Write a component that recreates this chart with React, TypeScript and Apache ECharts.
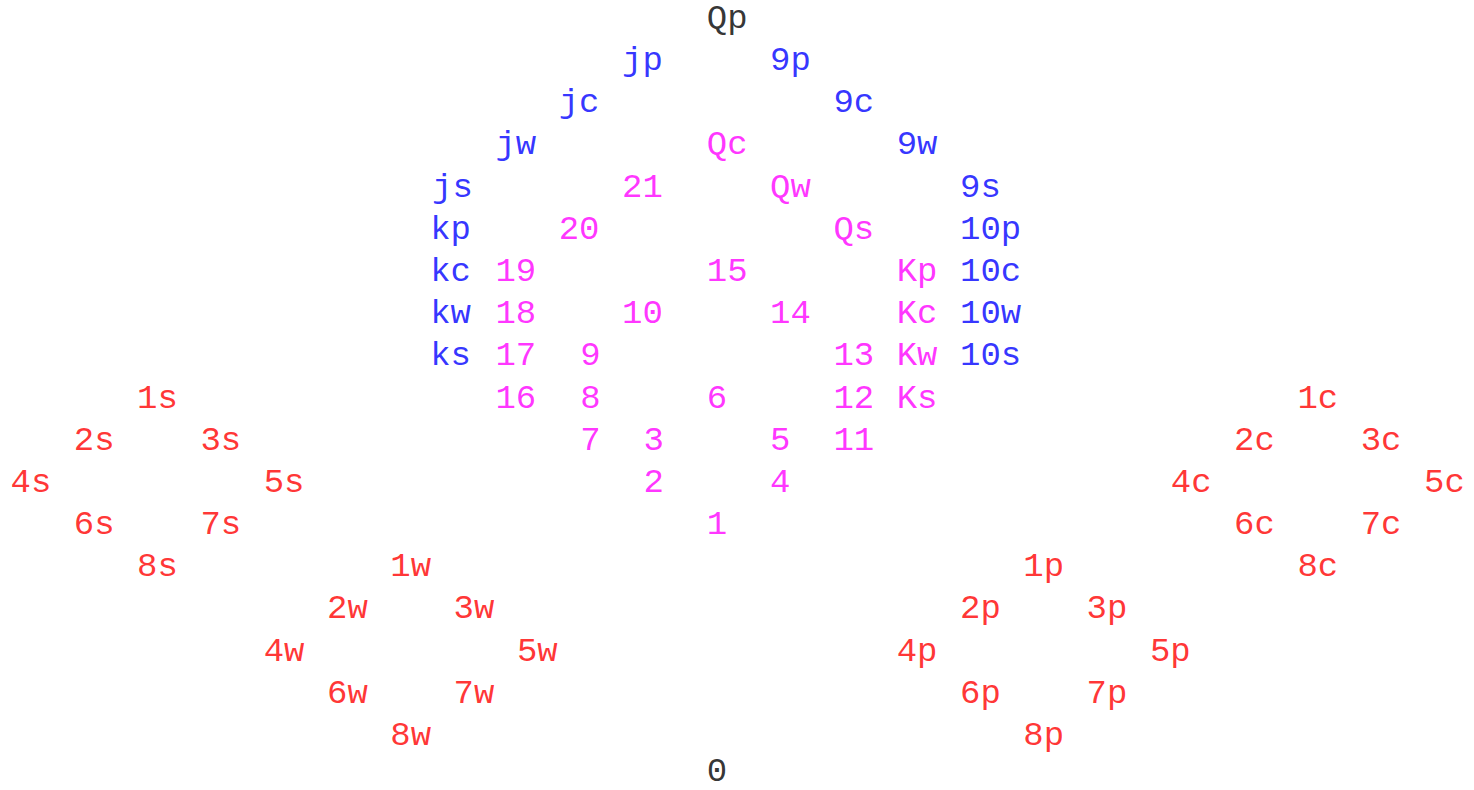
import React, { useEffect, useRef } from "react";
import * as echarts from "echarts";

// Black labels (top and bottom)
const blackLabels = ["Qp", "0"];
const blackX = [11, 11];
const blackY = [0, 17.85];

// Blue labels
const blueLabels = ["jp", "9p", "jc", "9c", "jw", "9w", "js", "9s", "kp", "10p", "kc", "10c", "kw", "10w", "ks", "10s"];
const blueX = [9.66, 12, 8.66, 13, 7.66, 14, 6.66, 15, 6.63, 15, 6.63, 15, 6.63, 15, 6.63, 15];
const blueY = [1, 1, 2, 2, 3, 3, 4, 4, 5, 5, 6, 6, 7, 7, 8, 8];

// Magenta labels
const magentaLabels = [
  "Qc", "21", "Qw", "20", "Qs", "19", "15", "Kp", "18", "10", "14", "Kc",
  "17", "9", "13", "Kw", "16", "8", "6", "12", "Ks", "7", "3", "5", "11", "2", "4", "1",
];
const magentaX = [
  11, 9.66, 12, 8.66, 13, 7.66, 11, 14, 7.66, 9.66, 12, 14,
  7.66, 9, 13, 14, 7.66, 9, 11, 13, 14, 9, 10, 12, 13, 10, 12, 11,
];
const magentaY = [
  3, 4, 4, 5, 5, 6, 6, 6, 7, 7, 7, 7,
  8, 8, 8, 8, 9, 9, 9, 9, 9, 10, 10, 10, 10, 11, 11, 12,
];

// Red labels (four diamonds)
const redLabels = [
  "1s", "2s", "3s", "4s", "5s", "6s", "7s", "8s",
  "1w", "2w", "3w", "4w", "5w", "6w", "7w", "8w",
  "1p", "2p", "3p", "4p", "5p", "6p", "7p", "8p",
  "1c", "2c", "3c", "4c", "5c", "6c", "7c", "8c",
];
const redX = [
  2, 1, 3, 0, 4, 1, 3, 2,
  6, 5, 7, 4, 8, 5, 7, 6,
  16, 15, 17, 14, 18, 15, 17, 16,
  20.33, 19.33, 21.33, 18.33, 22.33, 19.33, 21.33, 20.33,
];
const redY = [
  9, 10, 10, 11, 11, 12, 12, 13,
  13, 14, 14, 15, 15, 16, 16, 17,
  13, 14, 14, 15, 15, 16, 16, 17,
  9, 10, 10, 11, 11, 12, 12, 13,
];

const FONT = "'Courier New', 'Liberation Mono', 'DejaVu Sans Mono', monospace";

function makeSeries(labels: string[], xs: number[], ys: number[], color: string) {
  return {
    type: "scatter",
    symbolSize: 1,
    itemStyle: { color: "transparent" },
    silent: true,
    data: labels.map((l, i) => ({ name: l, value: [xs[i], ys[i]] })),
    label: {
      show: true,
      position: "right",
      distance: 0,
      formatter: "{b}",
      color,
      fontFamily: FONT,
      fontSize: 34,
      lineHeight: 22,
    },
  };
}

export default function App() {
  const ref = useRef<HTMLDivElement>(null);
  useEffect(() => {
    if (!ref.current) return;
    const chart = echarts.init(ref.current, undefined, { renderer: "svg" });
    chart.setOption({
      animation: false,
      backgroundColor: "#ffffff",
      grid: { left: 10, right: 8.1, top: 18.8, bottom: 11.8 },
      xAxis: { type: "value", min: 0, max: 23, show: false },
      yAxis: { type: "value", min: 0, max: 18, inverse: true, show: false },
      series: [
        makeSeries(blackLabels, blackX, blackY, "#000000"),
        makeSeries(blueLabels, blueX, blueY, "#0000ff"),
        makeSeries(magentaLabels, magentaX, magentaY, "#ff00ff"),
        makeSeries(redLabels, redX, redY, "#ff0000"),
      ],
    });
    return () => chart.dispose();
  }, []);
  return (
    <div
      ref={ref}
      style={{ position: "fixed", left: 0, top: 0, width: 1474, height: 790, background: "#fff" }}
    />
  );
}
